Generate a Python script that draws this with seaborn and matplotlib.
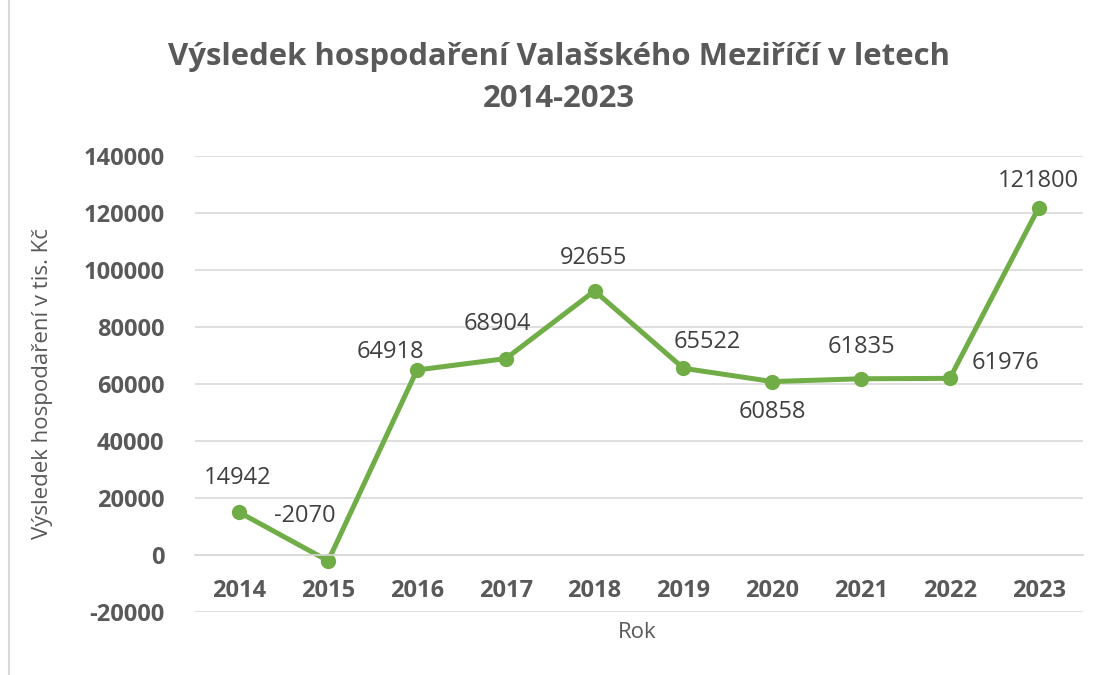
import matplotlib
matplotlib.use('Agg')
import matplotlib.pyplot as plt
import numpy as np
import seaborn as sns

green = '#70AD47'
grey_txt = '#595959'
grid_col = '#D9D9D9'

years = ['2014', '2015', '2016', '2017', '2018', '2019', '2020', '2021', '2022', '2023']
values = [14942, -2070, 64918, 68904, 92655, 65522, 60858, 61835, 61976, 121800]

# label offsets in points (dx, dy), mimicking the manual placement in the original
offsets = [(-1, 25), (-17, 32), (-19, 13), (-6, 25), (-1, 24), (17, 19),
           (0, -22), (0, 23), (40, 11), (0, 19)]


def main():
    sns.set_style('white')
    plt.rcParams['font.family'] = ['Open Sans', 'DejaVu Sans']
    plt.rcParams['axes.unicode_minus'] = False

    fig = plt.figure(figsize=(10.99, 6.75), dpi=100)
    ax = fig.add_axes([195 / 1099, 1 - 612 / 675, (1083 - 195) / 1099, (612 - 156) / 675])

    sns.lineplot(x=years, y=values, color=green, lw=3.6, marker='o', markersize=11,
                 markeredgewidth=0, ax=ax, sort=False)

    for i, (v, (dx, dy)) in enumerate(zip(values, offsets)):
        ax.annotate(str(v), (i, v), xytext=(dx, dy), textcoords='offset points',
                    ha='center', va='center', fontsize=17, color='#404040')

    ax.set_ylim(-20000, 140000)
    ax.set_xlim(-0.5, len(years) - 0.5)
    ax.set_yticks(np.arange(-20000, 140001, 20000))
    ax.yaxis.grid(True, color=grid_col, lw=1.2)
    ax.set_axisbelow(True)
    for s in ['top', 'right', 'left']:
        ax.spines[s].set_visible(False)
    ax.spines['bottom'].set_position(('data', 0))
    ax.spines['bottom'].set_color(grid_col)
    ax.spines['bottom'].set_linewidth(1.2)
    ax.tick_params(axis='both', length=0, labelcolor=grey_txt, labelsize=17)
    ax.tick_params(axis='x', pad=17)
    ax.tick_params(axis='y', pad=22)
    for lab in ax.get_xticklabels() + ax.get_yticklabels():
        lab.set_fontweight('bold')

    ax.set_xlabel('')
    fig.text(637 / 1099, 1 - 633 / 675, 'Rok', ha='center', va='center',
             fontsize=16, color=grey_txt)
    fig.text(43 / 1099, 1 - 384 / 675, 'Výsledek hospodaření v tis. Kč', rotation=90,
             ha='center', va='center', fontsize=16, color=grey_txt)
    fig.text(559 / 1099, 1 - 78 / 675,
             'Výsledek hospodaření Valašského Meziříčí v letech\n2014-2023',
             ha='center', va='center', fontsize=22.4, fontweight='bold', color=grey_txt,
             linespacing=1.5)

    # left edge of the chart frame
    fig.add_artist(plt.Line2D([9 / 1099, 9 / 1099], [0, 1], color='#D9D9D9', lw=1.5))

    plt.savefig('out.png', dpi=100)


if __name__ == '__main__':
    main()
